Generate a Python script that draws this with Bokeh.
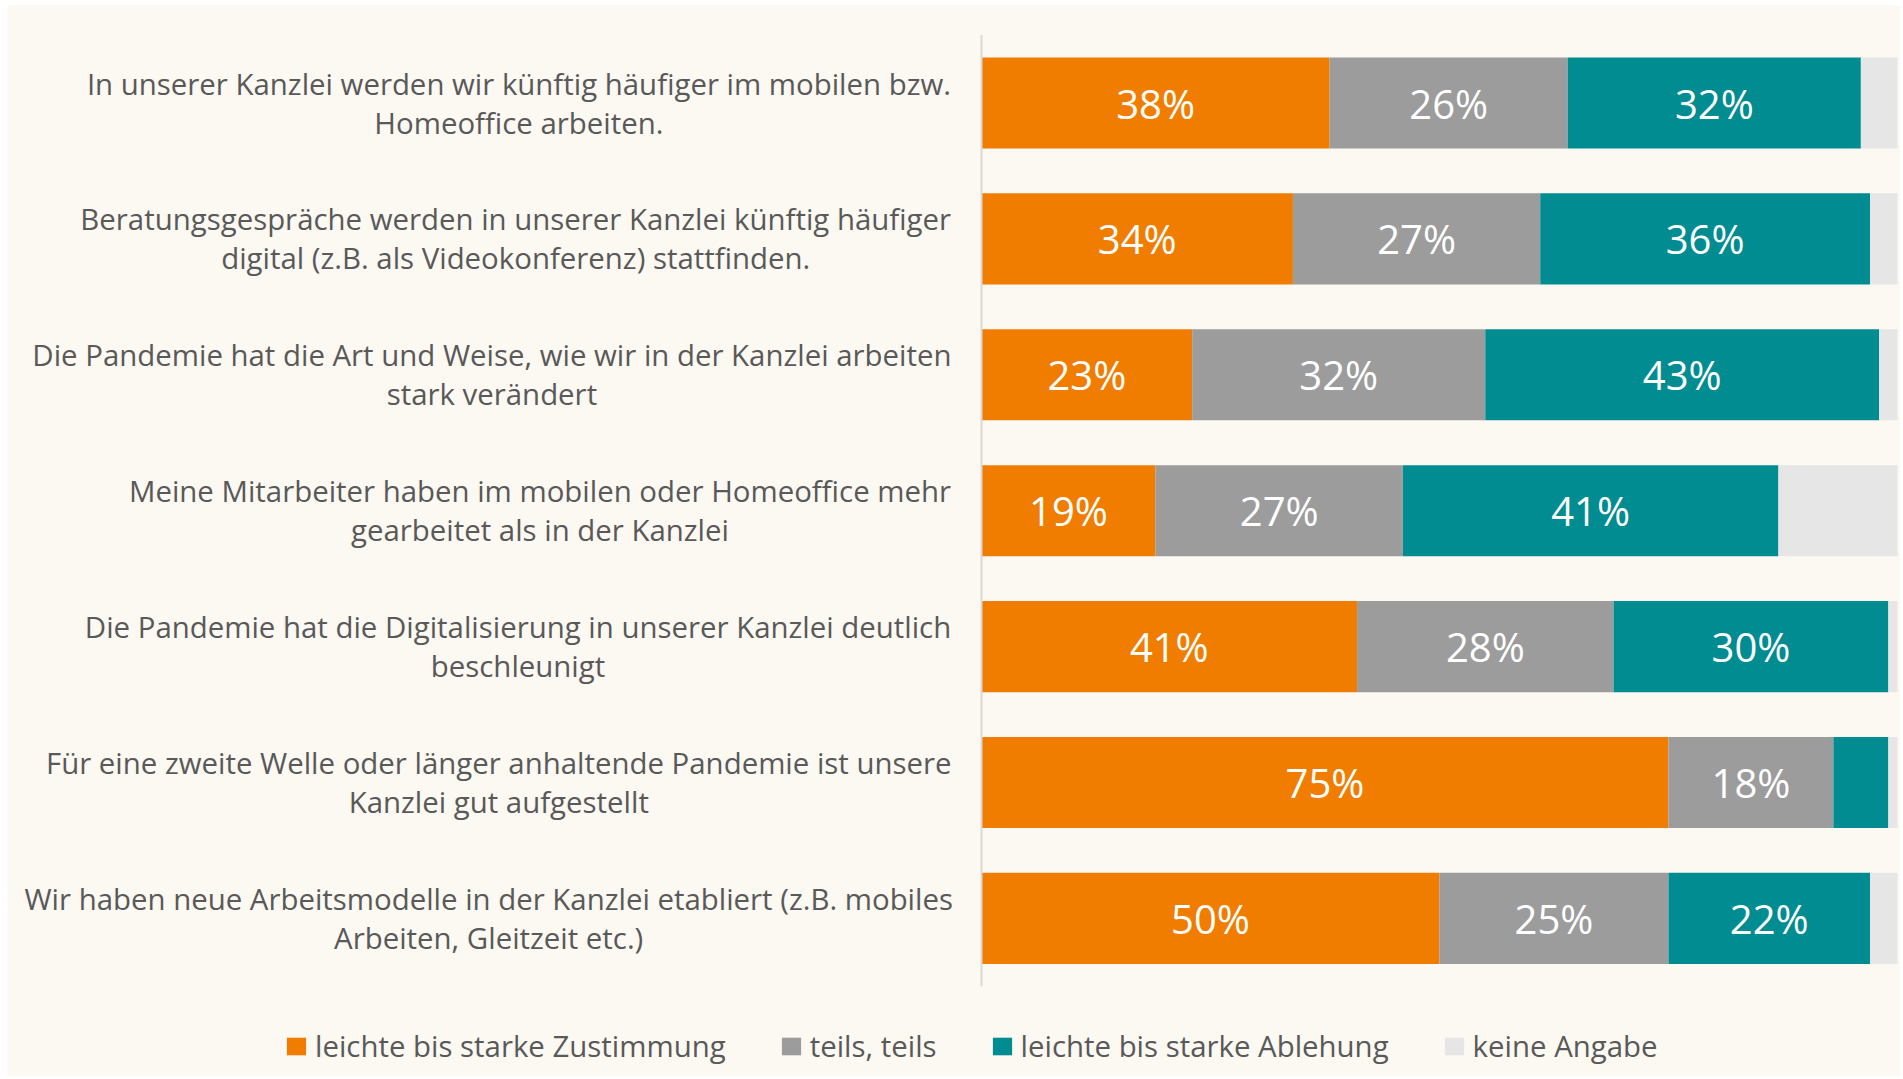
from bokeh.plotting import figure
from bokeh.models import ColumnDataSource, Legend, LegendItem, Range1d
from bokeh.core.properties import value
from bokeh.embed import file_html
from bokeh.resources import INLINE

# ---------------- data ----------------
statements = [
    ["In unserer Kanzlei werden wir künftig häufiger im mobilen bzw.", "Homeoffice arbeiten."],
    ["Beratungsgespräche werden in unserer Kanzlei künftig häufiger", "digital (z.B. als Videokonferenz) stattfinden."],
    ["Die Pandemie hat die Art und Weise, wie wir in der Kanzlei arbeiten", "stark verändert"],
    ["Meine Mitarbeiter haben im mobilen oder Homeoffice mehr", "gearbeitet als in der Kanzlei"],
    ["Die Pandemie hat die Digitalisierung in unserer Kanzlei deutlich", "beschleunigt"],
    ["Für eine zweite Welle oder länger anhaltende Pandemie ist unsere", "Kanzlei gut aufgestellt"],
    ["Wir haben neue Arbeitsmodelle in der Kanzlei etabliert (z.B. mobiles", "Arbeiten, Gleitzeit etc.)"],
]
series_names = ["leichte bis starke Zustimmung", "teils, teils", "leichte bis starke Ablehung", "keine Angabe"]
zustimmung = [38, 34, 23, 19, 41, 75, 50]
teils = [26, 27, 32, 27, 28, 18, 25]
ablehnung = [32, 36, 43, 41, 30, 6, 22]
keine_angabe = [4, 3, 2, 13, 1, 1, 3]

# ---------------- styles / layout ----------------
colors = ["#F07D00", "#9C9C9C", "#008C91", "#E6E6E6"]
BG = "#FCF8F2"
TEXT = "#595959"
FONT = "Open Sans"
W, H = 1900, 1076
LEFT, TOP = 7, 5          # white page strip before the cream panel
PX_PER_UNIT_X = 9.16     # 100 % = 916 px
ZERO_X = 981             # px of the 0 % line
ROW_PX = 135.9           # px per row
ROW0_Y = 102.5           # px of first row centre
label_centers = [-50.5, -50.85, -53.45, -48.2, -50.6, -52.7, -53.8]  # block centres (x units)
LINE_GAP = 19.5 / ROW_PX

rows = list(range(len(statements)))
keys = ["z", "t", "a", "k"]
source = ColumnDataSource(dict(row=rows, z=zustimmung, t=teils, a=ablehnung, k=keine_angabe))

x0 = -(ZERO_X - LEFT) / PX_PER_UNIT_X
x1 = (W - ZERO_X) / PX_PER_UNIT_X
ytop = -(ROW0_Y - TOP) / ROW_PX
ybot = (H - ROW0_Y) / ROW_PX

p = figure(width=W, height=H, output_backend="svg", toolbar_location=None,
           x_range=Range1d(x0, x1), y_range=Range1d(ybot, ytop),
           min_border=0, min_border_left=LEFT, min_border_right=0,
           min_border_top=TOP, min_border_bottom=0)
p.background_fill_color = BG
p.border_fill_color = "white"
p.outline_line_color = None
p.xgrid.visible = False
p.ygrid.visible = False
p.xaxis.visible = False
p.yaxis.visible = False

renderers = p.hbar_stack(keys, y="row", height=0.67, color=colors, line_color=None, source=source)

# category axis line
p.segment(x0=[0], y0=[-0.5], x1=[0], y1=[len(rows) - 0.5], line_color="#D9D9D9", line_width=2)

# value labels inside bars
lx, ly, lt = [], [], []
for i in rows:
    cum = 0
    for vals in (zustimmung, teils, ablehnung):
        v = vals[i]
        if v >= 10:
            lx.append(cum + v / 2)
            ly.append(i)
            lt.append(f"{v}%")
        cum += v
p.text(x="x", y="y", text="t", source=ColumnDataSource(dict(x=lx, y=ly, t=lt)),
       text_align="center", text_baseline="middle", text_color="white",
       text_font=value(FONT), text_font_size="40px")

# category labels (two centred lines each)
cx, cy, ct = [], [], []
for i, lines in zip(rows, statements):
    for j, line in enumerate(lines):
        cx.append(label_centers[i])
        cy.append(i - LINE_GAP if j == 0 else i + LINE_GAP)
        ct.append(line)
p.text(x="x", y="y", text="t", source=ColumnDataSource(dict(x=cx, y=cy, t=ct)),
       text_align="center", text_baseline="middle", text_color=TEXT,
       text_font=value(FONT), text_font_size="29.4px")

legend = Legend(items=[LegendItem(label=n, renderers=[r]) for n, r in zip(series_names, renderers)],
                orientation="horizontal", location=(277, 10),
                glyph_width=24, glyph_height=22, label_standoff=7, spacing=53,
                padding=0, margin=0, border_line_color=None, background_fill_alpha=0,
                label_text_font=FONT, label_text_font_size="29.4px", label_text_color=TEXT)
p.add_layout(legend, "center")

open("out.html", "w").write(file_html(p, INLINE))
